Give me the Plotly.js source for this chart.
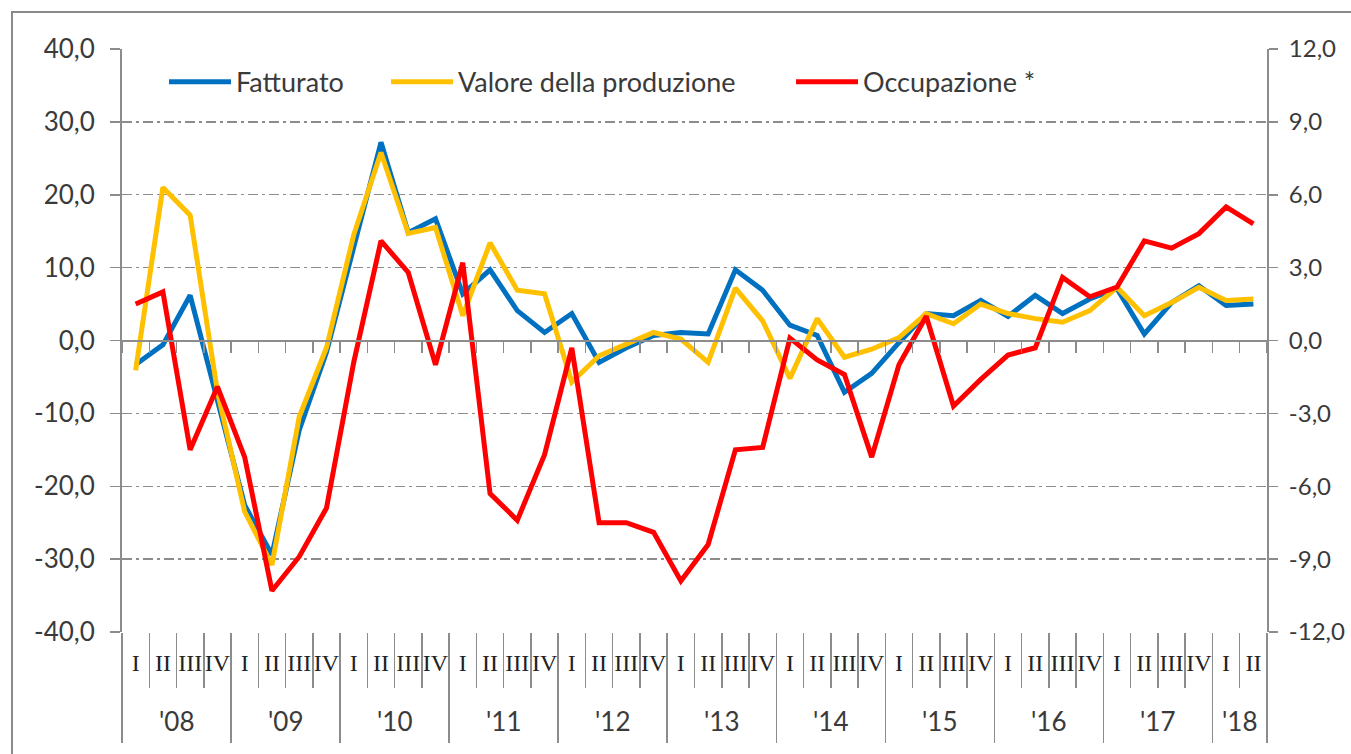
<!DOCTYPE html>
<html>
<head>
<meta charset="utf-8">
<script src="https://cdn.plot.ly/plotly-3.0.1.min.js"></script>
<style>
  html, body { margin: 0; padding: 0; background: #ffffff; overflow: hidden; }
  #frame { position: absolute; left: 11px; top: 11px; width: 1400px; height: 800px; border: 2px solid #8a8a8a; box-sizing: border-box; }
  #chart { position: absolute; left: 0; top: 0; width: 1351px; height: 754px; }
</style>
</head>
<body>
<div id="frame"></div>
<div id="chart"></div>
<script>
// ---- data ----
const years = ["'08", "'09", "'10", "'11", "'12", "'13", "'14", "'15", "'16", "'17", "'18"];
const quartersPerYear = [4, 4, 4, 4, 4, 4, 4, 4, 4, 4, 2];
const quarterNames = ["I", "II", "III", "IV"];

const fatturato = [-3.3, -0.6, 6.2, -8.0, -22.6, -29.4, -12.3, -1.6, 13.0, 27.2, 14.8, 16.7,
  6.4, 9.7, 4.1, 1.1, 3.7, -3.0, -1.0, 0.7, 1.1, 0.9, 9.7, 6.9, 2.1, 0.7, -7.1, -4.5,
  -0.3, 3.7, 3.4, 5.5, 3.3, 6.2, 3.7, 5.7, 7.1, 0.9, 5.2, 7.5, 4.8, 5.0];
const valoreProduzione = [-4.1, 21.0, 17.2, -7.0, -23.5, -30.8, -10.5, -1.0, 14.5, 25.8, 14.7, 15.5,
  3.4, 13.4, 6.9, 6.4, -5.7, -2.1, -0.5, 1.1, 0.2, -3.0, 7.2, 2.7, -5.2, 3.0, -2.3, -1.2,
  0.4, 3.7, 2.3, 5.0, 3.7, 3.0, 2.5, 4.1, 7.3, 3.4, 5.2, 7.3, 5.5, 5.7];
const occupazione = [1.5, 2.0, -4.5, -1.9, -4.8, -10.3, -8.9, -6.9, -0.9, 4.1, 2.8, -1.0,
  3.2, -6.3, -7.4, -4.7, -0.3, -7.5, -7.5, -7.9, -9.9, -8.4, -4.5, -4.4, 0.1, -0.8, -1.4, -4.8,
  -1.0, 1.0, -2.7, -1.6, -0.6, -0.3, 2.6, 1.8, 2.2, 4.1, 3.8, 4.4, 5.5, 4.8];

const seriesNames = ["Fatturato", "Valore della produzione", "Occupazione *"];
const seriesColors = ["#0070C0", "#FFC000", "#FF0000"];

const leftTicks = [-40, -30, -20, -10, 0, 10, 20, 30, 40];
const rightTicks = [-12, -9, -6, -3, 0, 3, 6, 9, 12];

// ---- derived category structure ----
const quarterLabels = [];
const yearCenters = [];
const yearBoundaries = [-0.5];
let idx = 0;
years.forEach((y, k) => {
  const n = quartersPerYear[k];
  for (let q = 0; q < n; q++) quarterLabels.push(quarterNames[q]);
  yearCenters.push(idx + (n - 1) / 2);
  idx += n;
  yearBoundaries.push(idx - 0.5);
});
const N = quarterLabels.length;
const xIdx = quarterLabels.map((_, i) => i);
const boundaries = [];
for (let i = 0; i <= N; i++) boundaries.push(i - 0.5);
const xRange = [-0.5, N - 0.5];
const fmt = v => v.toFixed(1).replace(".", ",");

const gray = "#8c8c8c";
const textColor = "#3a3a3a";
const font = "Lato, 'Open Sans', sans-serif";
const dashPattern = "10px,4px,3px,4px";

const legendIds = ["legend", "legend2", "legend3"];
const traces = [
  { x: xIdx, y: fatturato, name: seriesNames[0], type: "scatter", mode: "lines", legend: legendIds[0],
    line: { color: seriesColors[0], width: 5 }, xaxis: "x", yaxis: "y" },
  { x: xIdx, y: valoreProduzione, name: seriesNames[1], type: "scatter", mode: "lines", legend: legendIds[1],
    line: { color: seriesColors[1], width: 5 }, xaxis: "x", yaxis: "y" },
  { x: xIdx, y: occupazione, name: seriesNames[2], type: "scatter", mode: "lines", legend: legendIds[2],
    line: { color: seriesColors[2], width: 5 }, xaxis: "x", yaxis: "y2" },
  // helper traces so the auxiliary axes are drawn
  { x: [0], y: [null], xaxis: "x2", yaxis: "y", showlegend: false, hoverinfo: "skip", type: "scatter", mode: "lines" },
  { x: [0], y: [null], xaxis: "x3", yaxis: "y", showlegend: false, hoverinfo: "skip", type: "scatter", mode: "lines" },
  { x: [0], y: [null], xaxis: "x4", yaxis: "y", showlegend: false, hoverinfo: "skip", type: "scatter", mode: "lines" }
];

const annotations = years.map((y, k) => ({
  x: yearCenters[k], xref: "x", y: -0.153, yref: "paper",
  text: y, showarrow: false, xanchor: "center", yanchor: "middle",
  font: { family: font, size: 26, color: textColor }
}));

const legendBase = (x) => ({
  orientation: "h", x: x, xanchor: "left", y: 0.943, yanchor: "middle",
  font: { family: font, size: 27, color: textColor },
  bgcolor: "rgba(0,0,0,0)", itemwidth: 62
});

const layout = {
  width: 1351, height: 754,
  margin: { l: 122, r: 84, t: 49, b: 122 },
  paper_bgcolor: "rgba(0,0,0,0)", plot_bgcolor: "rgba(0,0,0,0)",
  showlegend: true,
  legend: legendBase(0.0367),
  legend2: legendBase(0.2306),
  legend3: legendBase(0.5843),
  xaxis: {
    type: "linear", range: xRange, tickmode: "array", tickvals: xIdx, ticktext: quarterLabels,
    showgrid: false, zeroline: false, showline: false, ticks: "",
    ticklabelstandoff: 14,
    tickfont: { family: "'Liberation Serif', 'DejaVu Serif', serif", size: 24, color: "#222222" }
  },
  xaxis2: {
    type: "linear", overlaying: "x", anchor: "free", position: 0.5, range: xRange,
    tickmode: "array", tickvals: boundaries, showticklabels: false,
    ticks: "outside", ticklen: 11, tickwidth: 1.5, tickcolor: gray,
    showline: true, linecolor: gray, linewidth: 2, showgrid: false, zeroline: false
  },
  xaxis3: {
    type: "linear", overlaying: "x", anchor: "free", position: 0, range: xRange,
    tickmode: "array", tickvals: boundaries, showticklabels: false,
    ticks: "outside", ticklen: 55, tickwidth: 1.5, tickcolor: gray,
    showline: false, showgrid: false, zeroline: false
  },
  xaxis4: {
    type: "linear", overlaying: "x", anchor: "free", position: 0, range: xRange,
    tickmode: "array", tickvals: yearBoundaries, showticklabels: false,
    ticks: "outside", ticklen: 110, tickwidth: 1.5, tickcolor: gray,
    showline: false, showgrid: false, zeroline: false
  },
  yaxis: {
    range: [-40, 40], tickmode: "array", tickvals: leftTicks, ticktext: leftTicks.map(fmt),
    showgrid: true, gridcolor: gray, griddash: dashPattern, gridwidth: 1.3,
    zeroline: false, showline: true, linecolor: gray, linewidth: 2,
    ticks: "outside", ticklen: 10, tickwidth: 1.5, tickcolor: gray,
    ticklabelstandoff: 10,
    tickfont: { family: font, size: 26, color: textColor }
  },
  yaxis2: {
    overlaying: "y", side: "right", range: [-12, 12], tickmode: "array", tickvals: rightTicks,
    ticktext: rightTicks.map(fmt),
    showgrid: false, zeroline: false, showline: true, linecolor: gray, linewidth: 2,
    ticks: "outside", ticklen: 9, tickwidth: 1.5, tickcolor: gray,
    ticklabelstandoff: 6,
    tickfont: { family: font, size: 24, color: textColor }
  },
  annotations: annotations
};

Plotly.newPlot("chart", traces, layout, { displayModeBar: false, staticPlot: true });
</script>
</body>
</html>
